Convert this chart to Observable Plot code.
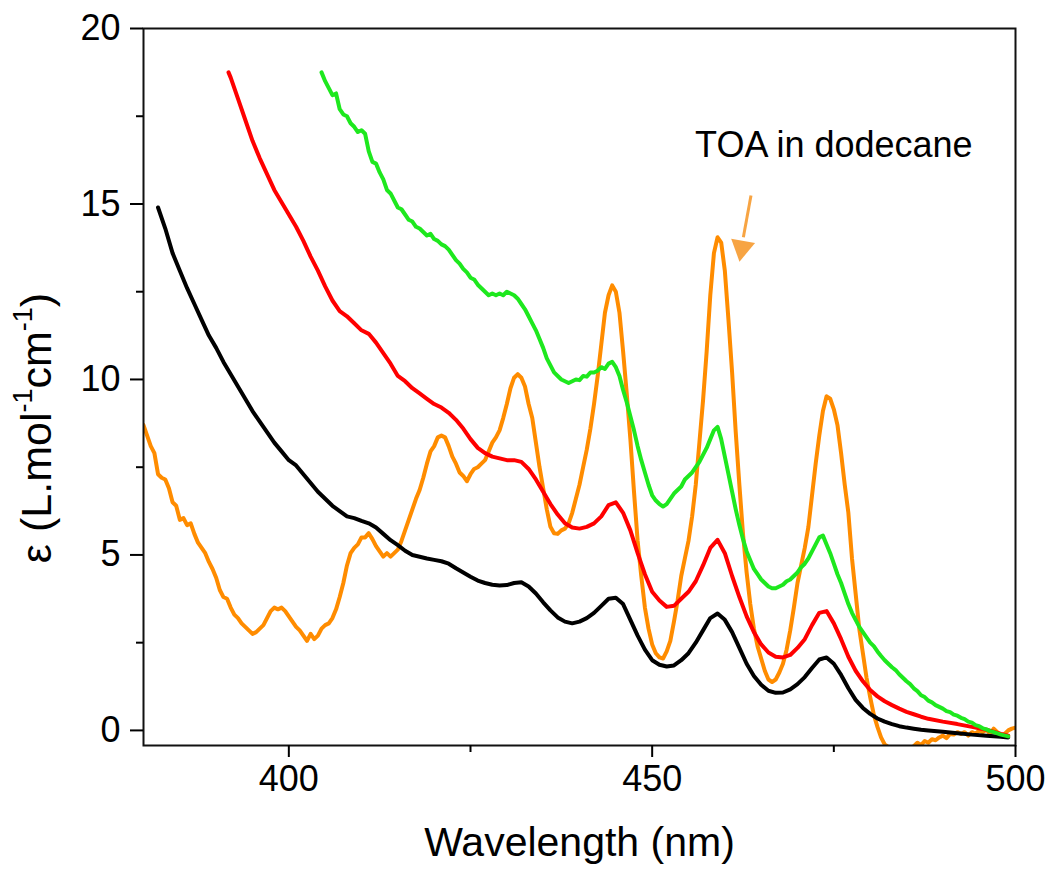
<!DOCTYPE html>
<html><head><meta charset="utf-8">
<script src="https://cdn.jsdelivr.net/npm/d3@7"></script>
<script src="https://cdn.jsdelivr.net/npm/@observablehq/plot@0.6"></script>
<style>
html,body{margin:0;padding:0;background:#fff;}
#chart{width:1045px;height:884px;}
</style></head><body><div id="chart"></div>
<script>
// Absorption spectra: [wavelength (nm), epsilon]
const blackCurve = [[382,14.9],[383,14.3],[384,13.6],[385,13.1],[386,12.6],[387,12.15],[388,11.7],[389,11.25],[390,10.9],[391,10.5],[392,10.15],[393,9.8],[394,9.45],[395,9.1],[396,8.8],[397,8.5],[398,8.2],[399,7.95],[400,7.7],[401,7.55],[402,7.3],[403,7.05],[404,6.8],[405,6.6],[406,6.4],[407,6.25],[408,6.1],[409,6.05],[410,5.97],[411,5.9],[412,5.78],[413,5.6],[414,5.42],[415,5.28],[416,5.12],[417,5.0],[418,4.95],[419,4.9],[420,4.86],[421,4.82],[422,4.75],[423,4.62],[424,4.5],[425,4.38],[426,4.27],[427,4.2],[428,4.15],[429,4.13],[430,4.14],[431,4.2],[432,4.22],[433,4.1],[434,3.9],[435,3.65],[436,3.42],[437,3.22],[438,3.1],[439,3.05],[440,3.1],[441,3.2],[442,3.35],[443,3.55],[444,3.75],[445,3.78],[446,3.6],[447,3.15],[448,2.7],[449,2.3],[450,2.0],[451,1.87],[452,1.82],[453,1.85],[454,2.0],[455,2.2],[456,2.5],[457,2.85],[458,3.2],[459,3.33],[460,3.15],[461,2.8],[462,2.35],[463,1.9],[464,1.55],[465,1.3],[466,1.13],[467,1.07],[468,1.08],[469,1.17],[470,1.32],[471,1.52],[472,1.78],[473,2.02],[474,2.08],[475,1.9],[476,1.58],[477,1.2],[478,0.87],[479,0.64],[480,0.47],[481,0.34],[482,0.25],[483,0.18],[484,0.12],[485,0.08],[486,0.05],[487,0.02],[488,0.0],[490,-0.04],[492,-0.08],[494,-0.12],[496,-0.15],[498,-0.18],[499,-0.2]];

const redCurve = [[391.7,18.75],[392,18.6],[393,18.0],[394,17.4],[395,16.8],[396,16.3],[397,15.85],[398,15.4],[399,15.05],[400,14.7],[401,14.35],[402,13.95],[403,13.5],[404,13.1],[405,12.65],[406,12.25],[407,11.95],[408,11.8],[409,11.6],[410,11.4],[411,11.3],[412,11.05],[413,10.75],[414,10.45],[415,10.1],[416,9.95],[417,9.75],[418,9.6],[419,9.45],[420,9.3],[421,9.2],[422,9.05],[423,8.85],[424,8.6],[425,8.3],[426,8.05],[427,7.9],[428,7.8],[429,7.75],[430,7.7],[431,7.7],[432,7.65],[433,7.45],[434,7.15],[435,6.8],[436,6.45],[437,6.15],[438,5.9],[439,5.78],[440,5.75],[441,5.8],[442,5.9],[443,6.1],[444,6.42],[445,6.5],[446,6.2],[447,5.7],[448,5.05],[449,4.45],[450,3.95],[451,3.7],[452,3.52],[453,3.55],[454,3.75],[455,3.95],[456,4.25],[457,4.7],[458,5.2],[459,5.43],[460,5.05],[461,4.4],[462,3.8],[463,3.25],[464,2.8],[465,2.45],[466,2.22],[467,2.1],[468,2.08],[469,2.15],[470,2.35],[471,2.6],[472,3.0],[473,3.35],[474,3.4],[475,3.05],[476,2.6],[477,2.1],[478,1.7],[479,1.4],[480,1.15],[481,0.97],[482,0.83],[483,0.72],[484,0.62],[485,0.53],[486,0.46],[487,0.39],[488,0.33],[490,0.25],[492,0.18],[494,0.1],[496,0.02],[498,-0.1],[499,-0.15]];

const greenCurve = [[404.5,18.75],[405,18.5],[405.5,18.3],[406,18.1],[406.5,18.15],[407,17.7],[407.5,17.55],[408,17.5],[408.5,17.3],[409,17.2],[409.5,17.05],[410,17.1],[410.5,17.0],[411,16.5],[411.5,16.2],[412,16.15],[412.5,15.9],[413,15.7],[413.5,15.4],[414,15.3],[414.5,15.1],[415,14.9],[415.5,14.85],[416,14.7],[416.5,14.55],[417,14.5],[417.5,14.35],[418,14.3],[418.5,14.2],[419,14.1],[419.5,14.15],[420,14.0],[420.5,13.95],[421,13.85],[421.5,13.8],[422,13.7],[422.5,13.55],[423,13.4],[423.5,13.3],[424,13.15],[424.5,13.05],[425,12.9],[425.5,12.85],[426,12.7],[426.5,12.6],[427,12.5],[427.5,12.4],[428,12.45],[428.5,12.4],[429,12.45],[429.5,12.4],[430,12.5],[430.5,12.45],[431,12.4],[431.5,12.3],[432,12.15],[432.5,12.0],[433,11.8],[433.5,11.6],[434,11.4],[434.5,11.15],[435,10.9],[435.5,10.6],[436,10.4],[436.5,10.2],[437,10.1],[437.5,10.0],[438,9.95],[438.5,9.9],[439,9.95],[439.5,10.0],[440,9.98],[440.5,10.1],[441,10.08],[441.5,10.2],[442,10.2],[442.5,10.25],[443,10.35],[443.5,10.3],[444,10.45],[444.5,10.5],[445,10.35],[445.5,10.1],[446,9.7],[446.5,9.35],[447,8.95],[447.5,8.55],[448,8.1],[448.5,7.7],[449,7.35],[449.5,7.0],[450,6.7],[450.5,6.55],[451,6.45],[451.5,6.38],[452,6.45],[452.5,6.6],[453,6.75],[453.5,6.85],[454,6.95],[454.5,7.15],[455,7.25],[455.5,7.35],[456,7.5],[456.5,7.65],[457,7.85],[457.5,8.05],[458,8.3],[458.5,8.55],[459,8.65],[459.5,8.3],[460,7.8],[460.5,7.3],[461,6.8],[461.5,6.3],[462,5.85],[462.5,5.45],[463,5.1],[463.5,4.85],[464,4.6],[464.5,4.45],[465,4.3],[465.5,4.2],[466,4.1],[466.5,4.05],[467,4.05],[467.5,4.1],[468,4.15],[468.5,4.25],[469,4.3],[469.5,4.4],[470,4.5],[470.5,4.65],[471,4.75],[471.5,4.9],[472,5.1],[472.5,5.3],[473,5.5],[473.5,5.55],[474,5.3],[474.5,5.05],[475,4.75],[475.5,4.45],[476,4.2],[476.5,3.9],[477,3.6],[477.5,3.35],[478,3.15],[478.5,2.95],[479,2.8],[479.5,2.65],[480,2.5],[480.5,2.4],[481,2.25],[481.5,2.12],[482,2.0],[482.5,1.9],[483,1.8],[483.5,1.72],[484,1.6],[484.5,1.5],[485,1.4],[485.5,1.32],[486,1.2],[486.5,1.12],[487,1.0],[487.5,0.95],[488,0.85],[488.5,0.8],[489,0.72],[489.5,0.67],[490,0.62],[490.5,0.55],[491,0.52],[491.5,0.45],[492,0.42],[492.5,0.36],[493,0.32],[493.5,0.25],[494,0.22],[494.5,0.15],[495,0.12],[495.5,0.06],[496,0.03],[496.5,-0.02],[497,-0.05],[498,-0.12],[499,-0.17]];

const orangeCurve = [[380,8.7],[380.5,8.4],[381,8.1],[381.5,7.9],[382,7.3],[382.5,7.2],[383,7.15],[383.5,6.9],[384,6.5],[384.5,6.4],[385,6.0],[385.5,6.05],[386,5.85],[386.5,5.9],[387,5.6],[387.5,5.35],[388,5.2],[388.5,5.05],[389,4.8],[389.5,4.6],[390,4.35],[390.5,4.0],[391,3.8],[391.5,3.75],[392,3.5],[392.5,3.3],[393,3.2],[393.5,3.05],[394,2.95],[394.5,2.85],[395,2.75],[395.5,2.8],[396,2.9],[396.5,3.0],[397,3.2],[397.5,3.4],[398,3.5],[398.5,3.45],[399,3.5],[399.5,3.4],[400,3.25],[400.5,3.1],[401,2.95],[401.5,2.85],[402,2.7],[402.5,2.55],[403,2.75],[403.5,2.6],[404,2.7],[404.5,2.9],[405,3.0],[405.5,3.05],[406,3.2],[406.5,3.45],[407,3.8],[407.5,4.2],[408,4.7],[408.5,5.05],[409,5.2],[409.5,5.3],[410,5.5],[410.5,5.5],[411,5.62],[411.5,5.45],[412,5.25],[412.5,5.1],[413,4.95],[413.5,5.05],[414,4.95],[414.5,5.05],[415,5.15],[415.5,5.4],[416,5.7],[416.5,6.0],[417,6.3],[417.5,6.6],[418,6.85],[418.5,7.2],[419,7.6],[419.5,7.95],[420,8.1],[420.5,8.35],[421,8.4],[421.5,8.35],[422,8.1],[422.5,7.8],[423,7.6],[423.5,7.35],[424,7.25],[424.5,7.1],[425,7.3],[425.5,7.45],[426,7.5],[426.5,7.6],[427,7.7],[427.5,7.95],[428,8.2],[428.5,8.35],[429,8.55],[429.5,8.9],[430,9.3],[430.5,9.75],[431,10.05],[431.5,10.15],[432,10.05],[432.5,9.8],[433,9.3],[433.5,8.9],[434,8.2],[434.5,7.5],[435,6.9],[435.5,6.3],[436,5.8],[436.5,5.62],[437,5.6],[437.5,5.7],[438,5.75],[438.5,5.9],[439,6.2],[439.5,6.6],[440,7.0],[440.5,7.5],[441,8.0],[441.5,8.6],[442,9.3],[442.5,10.1],[443,11.0],[443.5,11.9],[444,12.4],[444.5,12.68],[445,12.5],[445.5,11.9],[446,10.8],[446.5,9.6],[447,8.3],[447.5,6.8],[448,5.4],[448.5,4.4],[449,3.5],[449.5,2.9],[450,2.45],[450.5,2.2],[451,2.08],[451.5,2.05],[452,2.25],[452.5,2.55],[453,3.1],[453.5,3.7],[454,4.4],[454.5,4.9],[455,5.4],[455.5,6.1],[456,7.0],[456.5,8.2],[457,9.4],[457.5,10.8],[458,12.4],[458.5,13.6],[459,14.05],[459.5,13.9],[460,13.1],[460.5,11.7],[461,10.2],[461.5,8.5],[462,7.0],[462.5,5.6],[463,4.5],[463.5,3.6],[464,2.9],[464.5,2.4],[465,2.05],[465.5,1.7],[466,1.45],[466.5,1.38],[467,1.45],[467.5,1.65],[468,1.9],[468.5,2.3],[469,2.85],[469.5,3.5],[470,4.2],[470.5,4.7],[471,5.2],[471.5,5.8],[472,6.7],[472.5,7.6],[473,8.4],[473.5,9.1],[474,9.52],[474.5,9.45],[475,9.15],[475.5,8.7],[476,7.9],[476.5,7.0],[477,6.2],[477.5,4.9],[478,3.9],[478.5,2.9],[479,2.2],[479.5,1.5],[480,0.95],[480.5,0.45],[481,0.1],[481.5,-0.2],[482,-0.4],[483,-0.55],[484,-0.6],[485,-0.55],[486,-0.45],[486.5,-0.35],[487,-0.42],[487.5,-0.3],[488,-0.35],[488.5,-0.25],[489,-0.28],[489.5,-0.2],[490,-0.15],[490.5,-0.22],[491,-0.1],[491.5,-0.12],[492,-0.05],[492.5,-0.1],[493,-0.05],[493.5,-0.15],[494,-0.05],[494.5,-0.1],[495,0.0],[495.5,-0.05],[496,0.02],[496.5,-0.1],[497,0.05],[497.5,-0.05],[498,-0.15],[498.5,-0.1],[499,0.0],[499.5,0.05],[500,0.08]];

const xMajorTicks = [400, 450, 500];
const xMinorTicks = [425, 475];
const yMajorTicks = [0, 5, 10, 15, 20];
const yMinorTicks = [2.5, 7.5, 12.5, 17.5];
const annotation = [{x: 475, y: 16.67, text: "TOA in dodecane"}];
const arrowShaft = [{x1: 463.6, y1: 15.24, x2: 462.55, y2: 14.05}];
const arrowHead = [{x: 462.35, y: 13.75}];
const xLabel = "Wavelength (nm)";

const rows = c => c.map(([wl, eps]) => ({wl, eps}));
const font = "'Liberation Sans', Arial, Helvetica, sans-serif";
const arrowColor = "#f7a443";

const chart = Plot.plot({
  width: 1045, height: 884,
  marginTop: 28, marginBottom: 139, marginLeft: 143, marginRight: 30,
  style: {fontFamily: font, color: "#000", background: "#fff", overflow: "visible"},
  x: {domain: [380, 500]},
  y: {domain: [-0.43, 20]},
  marks: [
    Plot.line(rows(orangeCurve), {x: "wl", y: "eps", stroke: "#ff8c00", strokeWidth: 4, clip: true}),
    Plot.line(rows(blackCurve), {x: "wl", y: "eps", stroke: "#000000", strokeWidth: 4, clip: true}),
    Plot.line(rows(redCurve), {x: "wl", y: "eps", stroke: "#ff0000", strokeWidth: 4, clip: true}),
    Plot.line(rows(greenCurve), {x: "wl", y: "eps", stroke: "#1ee81e", strokeWidth: 4, clip: true}),
    Plot.frame({stroke: "#111", strokeWidth: 2}),
    Plot.axisY({ticks: yMajorTicks, tickSize: 13, tickPadding: 10, fontSize: 36, label: null, strokeWidth: 2}),
    Plot.axisY({ticks: yMinorTicks, tickSize: 7, tickFormat: () => "", label: null, strokeWidth: 2}),
    Plot.axisX({ticks: xMajorTicks, tickSize: 12, tickPadding: 8, fontSize: 36, label: null, strokeWidth: 2}),
    Plot.axisX({ticks: xMinorTicks, tickSize: 7, tickFormat: () => "", label: null, strokeWidth: 2}),
    Plot.link(arrowShaft, {x1: "x1", y1: "y1", x2: "x2", y2: "y2", stroke: arrowColor, strokeWidth: 3}),
    Plot.dot(arrowHead, {x: "x", y: "y", symbol: "triangle", r: 9, fill: arrowColor, stroke: "none", rotate: 190}),
    Plot.text(annotation, {x: "x", y: "y", text: "text", fontSize: 36, fill: "#000"}),
    Plot.text([xLabel], {frameAnchor: "bottom", dy: 110, fontSize: 41, fill: "#000"})
  ]
});
document.getElementById("chart").appendChild(chart);

// y-axis title with superscripts
const svg = d3.select(chart);
const yt = svg.append("text")
  .attr("transform", "translate(40,428) rotate(-90)")
  .attr("text-anchor", "middle")
  .attr("dominant-baseline", "middle")
  .attr("font-family", font)
  .attr("font-size", 43)
  .attr("fill", "#000");
yt.append("tspan").text("\u03B5 (L.mol");
yt.append("tspan").attr("font-size", 27).attr("dy", -15).text("-1");
yt.append("tspan").attr("dy", 15).text("cm");
yt.append("tspan").attr("font-size", 27).attr("dy", -15).text("-1");
yt.append("tspan").attr("dy", 15).text(")");
</script>
</body></html>
